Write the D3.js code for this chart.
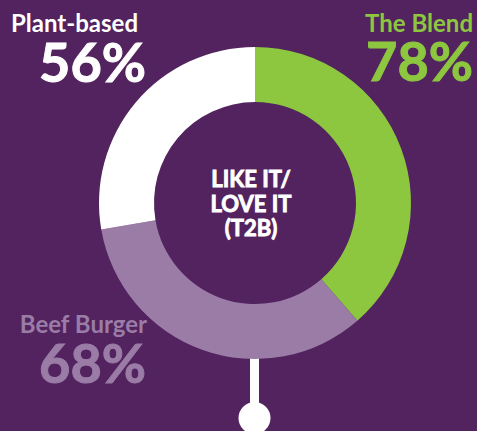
<!DOCTYPE html>
<html>
<head>
<meta charset="utf-8">
<script src="https://cdn.jsdelivr.net/npm/d3@7"></script>
<style>
  html, body { margin: 0; padding: 0; background: #52235f; }
  svg { display: block; }
  text { font-family: Lato, "Open Sans", sans-serif; font-weight: 700; }
</style>
</head>
<body>
<div id="chart"></div>
<script>
// data
const categories = ["The Blend", "Beef Burger", "Plant-based"];
const values = [78, 68, 56];
const colors = ["#8dc63f", "#9a7ca6", "#ffffff"];
const centerLines = ["LIKE IT/", "LOVE IT", "(T2B)"];

const width = 477, height = 431;
const cx = 255, cy = 203;
const outerR = 156, innerR = 101;

const svg = d3.select("#chart")
    .append("svg")
    .attr("width", width)
    .attr("height", height);

svg.append("rect")
    .attr("width", width)
    .attr("height", height)
    .attr("fill", "#52235f");

const slices = categories.map((c, i) => ({ name: c, value: values[i], color: colors[i] }));

const pie = d3.pie()
    .sort(null)
    .value(d => d.value);

const arc = d3.arc()
    .innerRadius(innerR)
    .outerRadius(outerR);

const g = svg.append("g")
    .attr("transform", `translate(${cx},${cy})`);

// stem + knob under the ring
g.append("rect")
    .attr("x", -5)
    .attr("y", outerR - 4)
    .attr("width", 9)
    .attr("height", 60)
    .attr("fill", "#fff");

g.append("circle")
    .attr("cx", -0.5)
    .attr("cy", 215)
    .attr("r", 16)
    .attr("fill", "#fff");

g.selectAll("path")
    .data(pie(slices))
    .enter()
    .append("path")
    .attr("d", arc)
    .attr("fill", d => d.data.color);

// centre text
g.append("text")
    .attr("text-anchor", "middle")
    .attr("fill", "#fff")
    .attr("stroke", "#fff")
    .attr("stroke-width", 0.9)
    .style("font-size", "22px")
    .selectAll("tspan")
    .data(centerLines)
    .enter()
    .append("tspan")
    .attr("x", -4)
    .attr("y", (d, i) => -16 + i * 24.5)
    .text(d => d);

// labels
const labels = [
    { i: 2, x: 138, y: 32, y2: 82, x2: 146 },
    { i: 0, x: 473, y: 32, y2: 81, x2: 473 },
    { i: 1, x: 147, y: 333, y2: 383, x2: 146 }
];

labels.forEach(l => {
    svg.append("text")
        .attr("x", l.x)
        .attr("y", l.y)
        .attr("text-anchor", "end")
        .attr("fill", colors[l.i])
        .style("font-size", "24px")
        .text(categories[l.i]);

    svg.append("text")
        .attr("x", l.x2)
        .attr("y", l.y2)
        .attr("text-anchor", "end")
        .attr("fill", colors[l.i])
        .attr("stroke", colors[l.i])
        .attr("stroke-width", 1)
        .style("font-size", "54px")
        .text(values[l.i] + "%");
});
</script>
</body>
</html>
